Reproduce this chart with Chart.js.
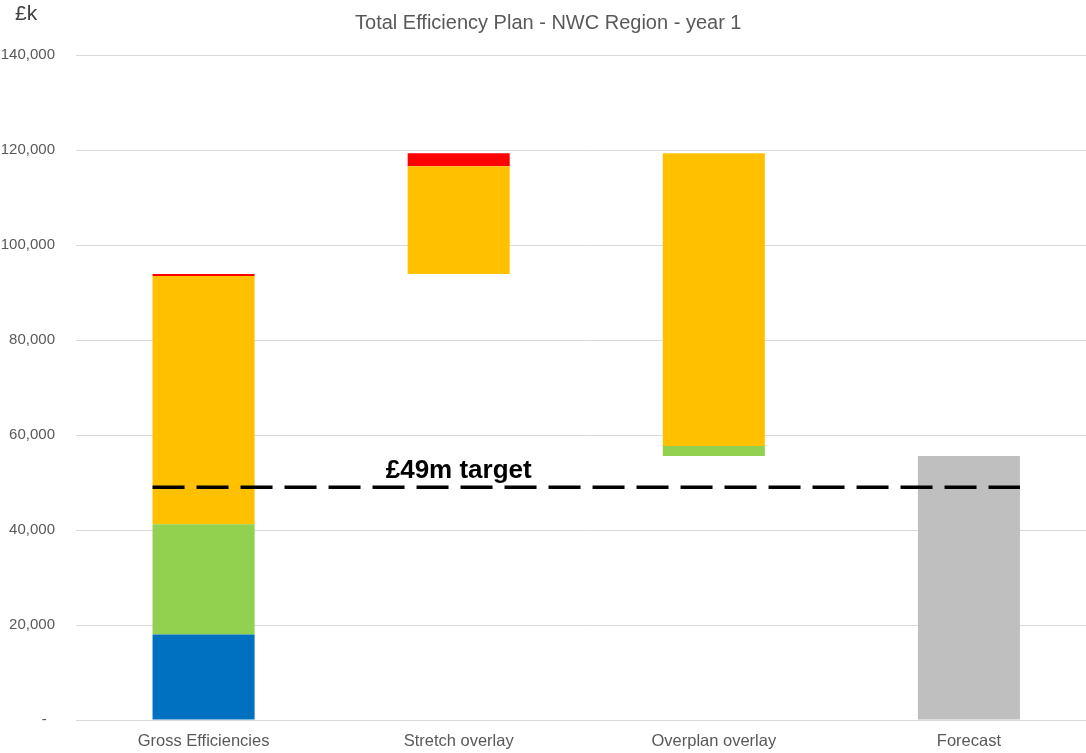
<!DOCTYPE html>
<html>
<head>
<meta charset="utf-8">
<title>Total Efficiency Plan - NWC Region - year 1</title>
<script src="https://cdn.jsdelivr.net/npm/chart.js@4/dist/chart.umd.min.js"></script>
<style>
  html, body { margin: 0; padding: 0; background: #fff; overflow: hidden; }
  #wrap { position: relative; width: 1100px; height: 753px; }
</style>
</head>
<body>
<div id="wrap"><canvas id="planChart" width="1100" height="753"></canvas></div>
<script>
// Chart data (£k) - floating [from, to] ranges per category
const categories = ['Gross Efficiencies', 'Stretch overlay', 'Overplan overlay', 'Forecast'];
const blueRanges   = [[0, 18000], null, null, null];
const greenRanges  = [[18000, 41200], null, [55600, 57700], null];
const yellowRanges = [[41200, 93500], [93900, 116600], [57700, 119300], null];
const redRanges    = [[93500, 93900], [116600, 119300], null, null];
const greyRanges   = [null, null, null, [0, 55600]];
const targetValue = 49000;
const targetLabel = '£49m target';
const unitLabel = '£k';
const yTicks = [0, 20000, 40000, 60000, 80000, 100000, 120000, 140000];

const FONT = '"Liberation Sans", Arial, Helvetica, sans-serif';
const TEXT_GREY = '#595959';

// Draws the dashed target line, its label and the unit label
const targetLinePlugin = {
    id: 'targetLine',
    afterDatasetsDraw(chart) {
        const ctx = chart.ctx;
        const y = chart.scales.y.getPixelForValue(targetValue);
        const first = chart.getDatasetMeta(0).data[0];
        const last = chart.getDatasetMeta(4).data[3];
        const x0 = first.x - first.width / 2;
        const x1 = last.x + last.width / 2;

        ctx.save();
        ctx.strokeStyle = '#000';
        ctx.lineWidth = 3.5;
        ctx.setLineDash([32, 12]);
        ctx.beginPath();
        ctx.moveTo(x0, y);
        ctx.lineTo(x1, y);
        ctx.stroke();

        ctx.setLineDash([]);
        ctx.fillStyle = '#000';
        ctx.font = 'bold 26px ' + FONT;
        ctx.textAlign = 'center';
        ctx.textBaseline = 'alphabetic';
        ctx.fillText(targetLabel, chart.scales.x.getPixelForValue(1), y - 9);

        ctx.fillStyle = '#404040';
        ctx.font = '21px ' + FONT;
        ctx.textAlign = 'left';
        ctx.fillText(unitLabel, 15, 20);
        ctx.restore();
    }
};

function barSet(label, data, color) {
    return {
        label: label,
        data: data,
        backgroundColor: color,
        borderWidth: 0,
        grouped: false,
        barPercentage: 0.4,
        categoryPercentage: 1.0
    };
}

new Chart(document.getElementById('planChart'), {
    type: 'bar',
    data: {
        labels: categories,
        datasets: [
            barSet('Blue', blueRanges, '#0070C0'),
            barSet('Green', greenRanges, '#92D050'),
            barSet('Amber', yellowRanges, '#FFC000'),
            barSet('Red', redRanges, '#FF0000'),
            barSet('Forecast', greyRanges, '#BFBFBF')
        ]
    },
    options: {
        responsive: false,
        animation: false,
        devicePixelRatio: 1,
        layout: { padding: { left: 0, right: 3.5, top: 0, bottom: 3 } },
        plugins: {
            legend: { display: false },
            tooltip: { enabled: false },
            title: {
                display: true,
                text: 'Total Efficiency Plan - NWC Region - year 1',
                color: TEXT_GREY,
                font: { family: FONT, size: 20, weight: 'normal' },
                padding: { top: 11, bottom: 20 }
            }
        },
        scales: {
            x: {
                grid: { display: false, drawTicks: false },
                border: { display: true, color: '#d9d9d9', width: 1 },
                ticks: {
                    color: TEXT_GREY,
                    padding: 12,
                    font: { family: FONT, size: 16.5 }
                },
                afterFit(axis) { axis.height = 30; }
            },
            y: {
                min: 0,
                max: 140000,
                afterBuildTicks(axis) {
                    axis.ticks = yTicks.map(v => ({ value: v }));
                },
                afterFit(axis) { axis.width = 76; },
                grid: { color: '#d9d9d9', lineWidth: 1, drawTicks: false },
                border: { display: false },
                ticks: {
                    color: TEXT_GREY,
                    padding: 21,
                    font: { family: FONT, size: 15 },
                    callback: function(value) {
                        return value === 0 ? '-  ' : value.toLocaleString('en-GB');
                    }
                }
            }
        }
    },
    plugins: [targetLinePlugin]
});
</script>
</body>
</html>
